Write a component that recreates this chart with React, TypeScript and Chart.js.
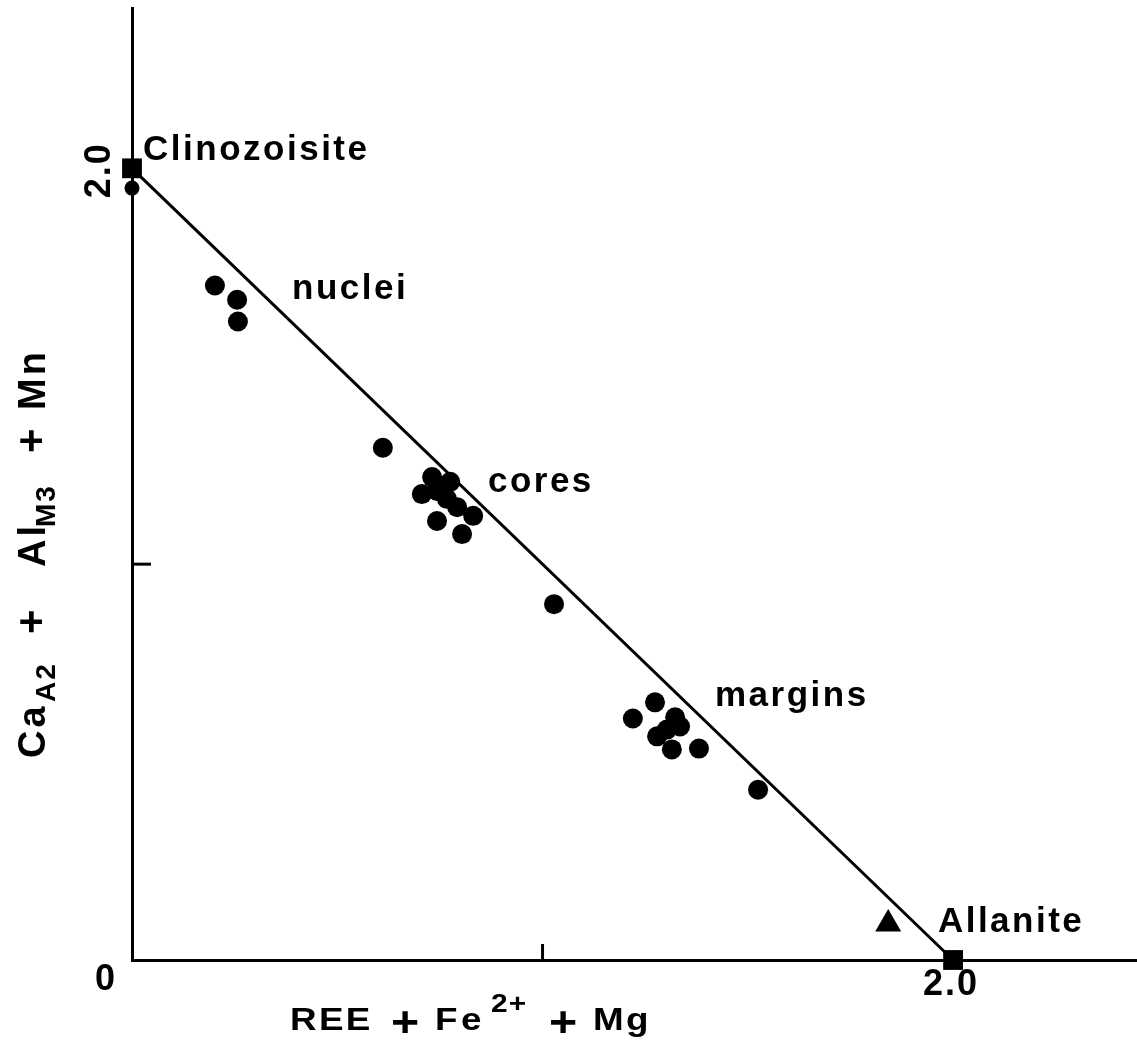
import { useEffect, useRef } from "react";
import { Chart, registerables } from "chart.js";

Chart.register(...registerables);

// Clinozoisite – allanite substitution line (atoms per formula unit)
const tieLineX = [0, 2.0];
const tieLineY = [2.0, 0];

// End-member compositions
const endMemberNames = ["Clinozoisite", "Allanite"];
const endMemberX = [0, 2.0];
const endMemberY = [2.0, 0];
const endMemberLabelX = [0.027, 1.963];
const endMemberLabelY = [2.02, 0.071];

// Analysed grains
const rimGrainX = [0.0];
const rimGrainY = [1.95];

const nucleiX = [0.202, 0.256, 0.258];
const nucleiY = [1.704, 1.668, 1.613];

const coresX = [0.611, 0.731, 0.706, 0.743, 0.775, 0.792, 0.831, 0.743, 0.804, 0.767];
const coresY = [1.294, 1.22, 1.177, 1.185, 1.208, 1.144, 1.122, 1.109, 1.076, 1.165];

const transitionalX = [1.028];
const transitionalY = [0.899];

const marginsX = [1.22, 1.274, 1.323, 1.335, 1.279, 1.315, 1.381, 1.303, 1.525];
const marginsY = [0.61, 0.651, 0.613, 0.59, 0.565, 0.532, 0.534, 0.582, 0.43];

const allaniteRefX = [1.842];
const allaniteRefY = [0.091];

// Group labels
const groupLabelTexts = ["nuclei", "cores", "margins"];
const groupLabelX = [0.39, 0.867, 1.42];
const groupLabelY = [1.671, 1.182, 0.641];

// Axes
const xMax = 2.448;
const yMax = 2.405;
const xTickMarks = [1.0];
const yTickMarks = [1.0];
const xLabelValues = [2.0];
const xLabelTexts = ["2.0"];
const yLabelValues = [2.0];
const yLabelTexts = ["2.0"];
const originLabel = "0";

const FONT = "'Liberation Sans', Arial, Helvetica, sans-serif";

const toPoints = (xs: number[], ys: number[]) => xs.map((x, i) => ({ x, y: ys[i] }));

function setSpacing(ctx: CanvasRenderingContext2D, px: number) {
  (ctx as any).letterSpacing = `${px}px`;
}

// [text, offset along the title, font size, shift from baseline, letter spacing]
type Seg = [string, number, number, number, number];

const xTitleSegs: Seg[] = [
  ["REE", 0, 32, 0, 2],
  ["+", 101, 42, 6, 0],
  ["Fe", 145, 32, 0, 3],
  ["2+", 201, 26, -18, 1],
  ["+", 259, 42, 6, 0],
  ["Mg", 303, 32, 0, 2],
];

const yTitleSegs: Seg[] = [
  ["Ca", 0, 38, 0, 3],
  ["A2", 56, 28, 10, 2],
  ["+", 124, 42, 0, 0],
  ["Al", 191, 38, 0, 3],
  ["M3", 231, 28, 10, 2],
  ["+", 305, 42, 0, 0],
  ["Mn", 348, 38, 0, 3],
];

const decorations = {
  id: "decorations",
  afterDraw(chart: Chart) {
    const ctx = chart.ctx;
    const xs = chart.scales.x;
    const ys = chart.scales.y;
    const area = chart.chartArea;
    ctx.save();
    ctx.fillStyle = "#000";
    ctx.strokeStyle = "#000";

    // inward tick marks
    ctx.lineWidth = 3;
    xTickMarks.forEach((v) => {
      const px = xs.getPixelForValue(v);
      ctx.beginPath();
      ctx.moveTo(px, area.bottom);
      ctx.lineTo(px, area.bottom - 16);
      ctx.stroke();
    });
    yTickMarks.forEach((v) => {
      const py = ys.getPixelForValue(v);
      ctx.beginPath();
      ctx.moveTo(area.left, py);
      ctx.lineTo(area.left + 19, py);
      ctx.stroke();
    });

    // tick labels
    ctx.font = `bold 36px ${FONT}`;
    setSpacing(ctx, 2);
    ctx.textAlign = "center";
    ctx.textBaseline = "alphabetic";
    xLabelValues.forEach((v, i) => {
      ctx.fillText(xLabelTexts[i], xs.getPixelForValue(v) - 2, area.bottom + 35);
    });
    yLabelValues.forEach((v, i) => {
      ctx.save();
      ctx.translate(area.left - 22, ys.getPixelForValue(v) + 2);
      ctx.rotate(-Math.PI / 2);
      ctx.fillText(yLabelTexts[i], 0, 0);
      ctx.restore();
    });
    setSpacing(ctx, 0);
    ctx.fillText(originLabel, area.left - 27, area.bottom + 30);

    // annotations
    ctx.textAlign = "left";
    ctx.font = `bold 35px ${FONT}`;
    setSpacing(ctx, 2.5);
    endMemberNames.forEach((t, i) => {
      ctx.fillText(t, xs.getPixelForValue(endMemberLabelX[i]), ys.getPixelForValue(endMemberLabelY[i]));
    });
    groupLabelTexts.forEach((t, i) => {
      ctx.fillText(t, xs.getPixelForValue(groupLabelX[i]), ys.getPixelForValue(groupLabelY[i]));
    });

    // x-axis title: REE + Fe2+ + Mg (set slightly extended)
    const xt0 = area.left + 158;
    const xtb = area.bottom + 70;
    xTitleSegs.forEach(([t, dx, size, shift, sp]) => {
      ctx.save();
      ctx.translate(xt0 + dx, xtb + shift);
      ctx.scale(1.15, 1);
      ctx.font = `bold ${size}px ${FONT}`;
      setSpacing(ctx, sp);
      ctx.fillText(t, 0, 0);
      ctx.restore();
    });

    // y-axis title: CaA2 + AlM3 + Mn (reads bottom to top)
    ctx.save();
    ctx.translate(45, area.bottom - 202);
    ctx.rotate(-Math.PI / 2);
    yTitleSegs.forEach(([t, dx, size, shift, sp]) => {
      ctx.font = `bold ${size}px ${FONT}`;
      setSpacing(ctx, sp);
      ctx.fillText(t, dx, shift);
    });
    ctx.restore();

    setSpacing(ctx, 0);
    ctx.restore();
  },
};

export default function App() {
  const canvasRef = useRef<HTMLCanvasElement | null>(null);

  useEffect(() => {
    document.body.style.margin = "0";
    const canvas = canvasRef.current;
    if (!canvas) return;
    Chart.defaults.font.family = FONT;

    const dot = (data: { x: number; y: number }[], r: number) => ({
      data,
      pointRadius: r,
      pointHoverRadius: r,
      pointBackgroundColor: "#000",
      pointBorderColor: "#000",
      pointBorderWidth: 0,
      pointStyle: "circle" as const,
      showLine: false,
      clip: false as const,
    });

    const chart = new Chart(canvas, {
      type: "scatter",
      data: {
        datasets: [
          {
            label: "End members",
            data: toPoints(endMemberX, endMemberY),
            pointStyle: "rect",
            pointRadius: 14,
            pointBackgroundColor: "#000",
            pointBorderColor: "#000",
            pointBorderWidth: 0,
            showLine: false,
            clip: false,
          },
          {
            label: "Allanite (reference)",
            data: toPoints(allaniteRefX, allaniteRefY),
            pointStyle: "triangle",
            pointRadius: 15,
            pointBackgroundColor: "#000",
            pointBorderColor: "#000",
            pointBorderWidth: 0,
            showLine: false,
            clip: false,
          },
          { label: "rim", ...dot(toPoints(rimGrainX, rimGrainY), 7.5) },
          { label: "nuclei", ...dot(toPoints(nucleiX, nucleiY), 10) },
          { label: "cores", ...dot(toPoints(coresX, coresY), 10) },
          { label: "transitional", ...dot(toPoints(transitionalX, transitionalY), 10) },
          { label: "margins", ...dot(toPoints(marginsX, marginsY), 10) },
          {
            label: "Substitution line",
            data: toPoints(tieLineX, tieLineY),
            showLine: true,
            borderColor: "#000",
            borderWidth: 3,
            pointRadius: 0,
            clip: false,
          },
        ],
      },
      options: {
        responsive: false,
        animation: false,
        devicePixelRatio: 1,
        layout: { autoPadding: false, padding: { left: 132, right: 0, top: 8, bottom: 82 } },
        plugins: { legend: { display: false }, tooltip: { enabled: false } },
        scales: {
          x: {
            type: "linear",
            min: 0,
            max: xMax,
            grid: { display: false, drawTicks: false },
            ticks: { display: false },
            border: { display: true, color: "#000", width: 3 },
          },
          y: {
            type: "linear",
            min: 0,
            max: yMax,
            grid: { display: false, drawTicks: false },
            ticks: { display: false },
            border: { display: true, color: "#000", width: 3 },
          },
        },
      },
      plugins: [decorations],
    });

    return () => chart.destroy();
  }, []);

  return (
    <div style={{ width: 1137, height: 1042, background: "#fff" }}>
      <canvas ref={canvasRef} width={1137} height={1042} style={{ display: "block" }} />
    </div>
  );
}
